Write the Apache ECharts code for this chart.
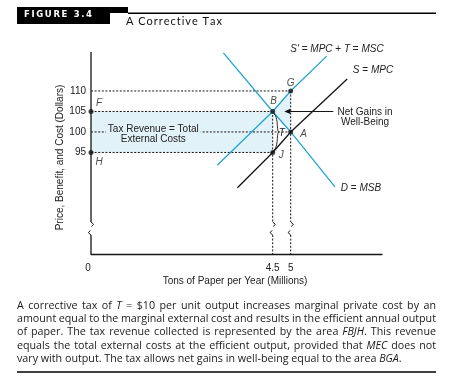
<!DOCTYPE html>
<html>
<head>
<meta charset="utf-8">
<script src="https://cdn.jsdelivr.net/npm/echarts@6.0.0/dist/echarts.min.js"></script>
<style>html,body{margin:0;padding:0;background:#fff;}#chart{width:462px;height:387px;}</style>
</head>
<body>
<div id="chart"></div>
<script>
// ===== DATA =====
const X_TICK_VALUES = [0, 4.5, 5];              // output, millions of tons
const Y_TICK_VALUES = [95, 100, 105, 110];      // dollars
const POINT_NAMES  = ['F', 'H', 'B', 'G', 'A', 'J'];
const POINT_OUTPUT = [0, 0, 4.5, 5, 5, 4.5];
const POINT_PRICE  = [105, 95, 105, 110, 100, 95];
const D_MSB_ENDS   = [[3.13, 119.3], [6.23, 86.6]];   // demand = MSB (ends beyond B, A)
const S_MSC_ENDS   = [[2.96, 91.9], [6.00, 118.5]];   // S' = MPC + T = MSC (ends beyond B, G)
const S_MPC_ENDS   = [[3.52, 86.4], [6.57, 112.9]];   // S = MPC (ends beyond J, A)
const CAPTION_LINES = [
  'A corrective tax of _T_ = $10 per unit output increases marginal private cost by an',
  'amount equal to the marginal external cost and results in the efficient annual output',
  'of paper. The tax revenue collected is represented by the area _FBJH_. This revenue',
  'equals the total external costs at the efficient output, provided that _MEC_ does not',
  'vary with output. The tax allows net gains in well-being equal to the area _BGA_.'
];

// ===== LAYOUT / STYLE =====
const GRID = {left: 91, top: 52, width: 291, height: 202};
const X_MIN = -0.547, X_MAX = 7.536;   // axis origin stands for 0 (axis not to scale between 0 and ~3)
const Y_MIN = 70.24, Y_MAX = 119.5;
const Y_BREAK = [74.87, 78.04];
const axisX = v => (v === 0 ? X_MIN : v);
const CYAN = '#22a6cf', INK = '#151515', SHADE = '#e1f2f9', TXT = '#222';
const FONT = '"Liberation Sans", Arial, sans-serif';
const CAP_FONT = '"Open Sans", sans-serif';

const P = {};
POINT_NAMES.forEach((n, i) => { P[n] = [axisX(POINT_OUTPUT[i]), POINT_PRICE[i]]; });

const chart = echarts.init(document.getElementById('chart'), null, {renderer: 'canvas'});

const shadePolys = [
  [P.F, P.B, P.J, P.H],
  [P.B, P.G, P.A]
];

function lineSeries(data, color, width, dashed, z) {
  return {
    type: 'line', data: data, symbol: 'none', silent: true, animation: false, z: z,
    lineStyle: {color: color, width: width, type: dashed ? [2, 1.6] : 'solid'},
    connectNulls: false
  };
}

const dashedSegs = [
  [P.F[0], 110, P.G[0], 110],
  [P.F[0], 105, P.B[0], 105],
  [P.F[0], 100, P.A[0], 100],
  [P.H[0], 95, P.J[0], 95],
  [P.B[0], P.B[1], P.B[0], Y_BREAK[1]],
  [P.B[0], Y_BREAK[0], P.B[0], Y_MIN],
  [P.G[0], P.G[1], P.G[0], Y_BREAK[1]],
  [P.G[0], Y_BREAK[0], P.G[0], Y_MIN]
];

const series = [];
series.push({
  type: 'custom', silent: true, animation: false, z: 1,
  data: shadePolys.map((p, i) => [i, 0]),
  renderItem: (params, api) => ({
    type: 'polygon',
    shape: {points: shadePolys[params.dataIndex].map(pt => api.coord(pt))},
    style: {fill: SHADE}
  })
});
dashedSegs.forEach(s => series.push(lineSeries([[s[0], s[1]], [s[2], s[3]]], INK, 1, true, 2)));
// y axis drawn with a break
series.push(lineSeries([[X_MIN, Y_MAX], [X_MIN, Y_BREAK[1]]], INK, 1.3, false, 3));
series.push(lineSeries([[X_MIN, Y_BREAK[0]], [X_MIN, Y_MIN]], INK, 1.3, false, 3));
// curves
series.push(lineSeries([D_MSB_ENDS[0], P.B, P.A, D_MSB_ENDS[1]], CYAN, 1.3, false, 4));
series.push(lineSeries([S_MSC_ENDS[0], P.B, P.G, S_MSC_ENDS[1]], CYAN, 1.3, false, 4));
series.push(lineSeries([S_MPC_ENDS[0], P.J, P.A, S_MPC_ENDS[1]], INK, 1.3, false, 4));

const LABEL_OFFSETS = {F: [8, -8], H: [8, 10], B: [1, -10], G: [0, -8], A: [13, 2], J: [8.5, 3]};
series.push({
  type: 'scatter', silent: true, animation: false, z: 6,
  symbol: 'circle', symbolSize: 5,
  itemStyle: {color: INK},
  data: POINT_NAMES.map(n => ({
    name: n, value: P[n],
    label: {
      show: true, formatter: n, position: 'inside', offset: LABEL_OFFSETS[n],
      color: TXT, fontStyle: 'italic', fontSize: 10, fontFamily: FONT
    }
  }))
});

chart.setOption({
  animation: false,
  grid: {left: GRID.left, top: GRID.top, width: GRID.width, height: GRID.height, containLabel: false},
  xAxis: {
    type: 'value', min: X_MIN, max: X_MAX,
    splitLine: {show: false}, axisTick: {show: false},
    axisLine: {show: true, lineStyle: {color: INK, width: 1.3}},
    axisLabel: {
      customValues: X_TICK_VALUES.map(axisX),
      formatter: v => (Math.abs(v - X_MIN) < 1e-6 ? '{o|0}' : String(v)),
      rich: {o: {padding: [0, 6, 0, 0], fontSize: 10, fontFamily: FONT, color: TXT}},
      margin: 9, fontSize: 10, fontFamily: FONT, color: TXT
    }
  },
  yAxis: {
    type: 'value', min: Y_MIN, max: Y_MAX,
    splitLine: {show: false}, axisTick: {show: false}, axisLine: {show: false},
    axisLabel: {customValues: Y_TICK_VALUES, margin: 5, fontSize: 10, fontFamily: FONT, color: TXT}
  },
  series: series
});

// ===== annotations =====
const px = (x, y) => chart.convertToPixel({gridIndex: 0}, [x, y]);
const ctx = document.createElement('canvas').getContext('2d');
const measure = (t, font) => { ctx.font = font; return ctx.measureText(t).width; };
const G = [];
function txt(x, y, text, extra) {
  G.push({type: 'text', z: 100, silent: true,
    style: Object.assign({x: x, y: y, text: text, fill: TXT, fontSize: 10, fontFamily: FONT,
      align: 'center', verticalAlign: 'middle'}, extra || {})});
}
const ital = {i: {fontStyle: 'italic', fontSize: 10, fontFamily: FONT, fill: TXT}};

// header
G.push({type: 'rect', z: 100, silent: true, shape: {x: 17, y: 7, width: 111, height: 6}, style: {fill: '#000'}});
G.push({type: 'rect', z: 100, silent: true, shape: {x: 17, y: 13, width: 93, height: 11}, style: {fill: '#000'}});
G.push({type: 'line', z: 100, silent: true, shape: {x1: 128, y1: 13.3, x2: 436, y2: 13.3}, style: {stroke: '#000', lineWidth: 1.4}});
function spaced(text, x0, totalW, y, font, fill) {
  const chars = text.split('');
  const nat = chars.reduce((s, c) => s + measure(c, font), 0);
  const sp = (totalW - nat) / (chars.length - 1);
  let x = x0;
  chars.forEach(c => {
    G.push({type: 'text', z: 101, silent: true, style: {x: x, y: y, text: c, font: font, fill: fill, align: 'left', verticalAlign: 'middle'}});
    x += measure(c, font) + sp;
  });
}
spaced('FIGURE 3.4', 24, 68, 14.8, 'bold 8.5px "DejaVu Sans", sans-serif', '#fff');
spaced('A Corrective Tax', 126, 96, 21.6, '11px Lato, sans-serif', '#111');

// axis titles
G.push({type: 'text', z: 100, silent: true, x: 60.5, y: 157.5, rotation: Math.PI / 2,
  style: {x: 0, y: 0, text: 'Price, Benefit, and Cost (Dollars)', fill: TXT, fontSize: 10, fontFamily: FONT, align: 'center', verticalAlign: 'middle'}});
txt(235, 281.7, 'Tons of Paper per Year (Millions)');

// curve labels
txt(337, 49, "{i|S'} = {i|MPC} + {i|T} = {i|MSC}", {rich: ital});
txt(373, 70.7, '{i|S} = {i|MPC}', {rich: ital});
txt(361, 188.3, '{i|D} = {i|MSB}', {rich: ital});
txt(365, 112.3, 'Net Gains in');
txt(365, 122.7, 'Well-Being');
txt(153.3, 129, 'Tax Revenue = Total', {backgroundColor: SHADE, padding: [1, 2]});
txt(153.3, 139.3, 'External Costs');

// T brace between B and J
const pB = px(P.B[0], P.B[1]), pJ = px(P.J[0], P.J[1]);
const bx = pB[0] + 0.8, y0 = pB[1] + 2, y1 = pJ[1] - 2, ym = (y0 + y1) / 2;
G.push({type: 'bezierCurve', z: 100, silent: true,
  shape: {x1: bx, y1: y0, cpx1: bx + 5, cpy1: y0 + 3, cpx2: bx + 3, cpy2: ym - 3, x2: bx + 5, y2: ym},
  style: {stroke: INK, lineWidth: 0.9, fill: null}});
G.push({type: 'bezierCurve', z: 100, silent: true,
  shape: {x1: bx + 5, y1: ym, cpx1: bx + 3, cpy1: ym + 3, cpx2: bx + 5, cpy2: y1 - 3, x2: bx, y2: y1},
  style: {stroke: INK, lineWidth: 0.9, fill: null}});
txt(pB[0] + 9, ym + 1, '{i|T}', {rich: ital});

// arrow to BGA
const aTip = px(4.822, 105), aStart = px(6.183, 105);
G.push({type: 'line', z: 100, silent: true, shape: {x1: aStart[0], y1: aStart[1], x2: aTip[0] + 4, y2: aTip[1]}, style: {stroke: INK, lineWidth: 1.1}});
G.push({type: 'polygon', z: 100, silent: true, shape: {points: [[aTip[0], aTip[1]], [aTip[0] + 6, aTip[1] - 2.6], [aTip[0] + 6, aTip[1] + 2.6]]}, style: {fill: INK}});

// break marks on the y axis and on the dashed verticals
[X_MIN, P.B[0], P.G[0]].forEach(xv => {
  const hi = px(xv, Y_BREAK[1]), lo = px(xv, Y_BREAK[0]);
  G.push({type: 'polyline', z: 100, silent: true, shape: {points: [[hi[0], hi[1]], [hi[0] + 2.6, hi[1] + 2.3], [hi[0] + 0.6, hi[1] + 4.6]]}, style: {stroke: INK, lineWidth: 1, fill: null}});
  G.push({type: 'polyline', z: 100, silent: true, shape: {points: [[lo[0] - 0.6, lo[1] - 4.6], [lo[0] - 2.6, lo[1] - 2.3], [lo[0], lo[1]]]}, style: {stroke: INK, lineWidth: 1, fill: null}});
});

// caption (justified)
const CAP_L = 17, CAP_W = 419, CAP_Y0 = 305.8, CAP_LH = 13.28;
function wordParts(w) { return w.split(/(_[^_]+_)/).filter(s => s.length); }
function wordWidth(w, fs) {
  return wordParts(w).reduce((s, p) => s + (p[0] === '_' ? measure(p.slice(1, -1), `italic ${fs}px ${CAP_FONT}`) : measure(p, `${fs}px ${CAP_FONT}`)), 0);
}
const lastWords = CAPTION_LINES[4].split(' ');
const lastW = lastWords.reduce((s, w) => s + wordWidth(w, 11), 0) + measure(' ', `11px ${CAP_FONT}`) * (lastWords.length - 1);
const FS = Math.min(11.6, 11 * 385 / lastW);
CAPTION_LINES.forEach((line, li) => {
  const words = line.split(' ');
  const ws = words.map(w => wordWidth(w, FS));
  const sum = ws.reduce((a, b) => a + b, 0);
  const gap = li < CAPTION_LINES.length - 1 ? (CAP_W - sum) / (words.length - 1) : measure(' ', `${FS}px ${CAP_FONT}`);
  let x = CAP_L;
  const y = CAP_Y0 + li * CAP_LH;
  words.forEach((w, wi) => {
    const t = wordParts(w).map(p => p[0] === '_' ? `{i|${p.slice(1, -1)}}` : p).join('');
    G.push({type: 'text', z: 100, silent: true, style: {x: x, y: y, text: t, font: `${FS}px ${CAP_FONT}`, fill: '#1a1a1a', align: 'left', verticalAlign: 'middle',
      rich: {i: {fontStyle: 'italic', fontSize: FS, fontFamily: 'Open Sans', fill: '#1a1a1a'}}}});
    x += ws[wi] + gap;
  });
});
G.push({type: 'line', z: 100, silent: true, shape: {x1: 17, y1: 372, x2: 436, y2: 372}, style: {stroke: '#000', lineWidth: 1.4}});

chart.setOption({graphic: {elements: G}});
</script>
</body>
</html>
